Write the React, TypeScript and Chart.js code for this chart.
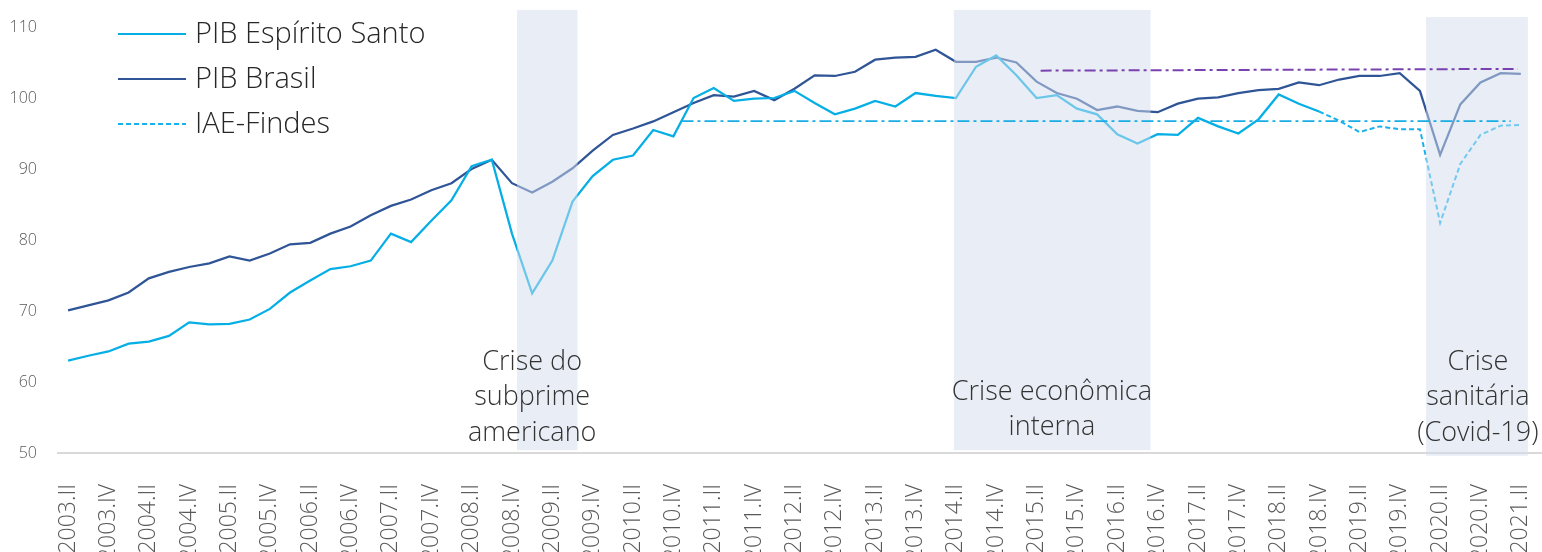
import React, { useEffect, useRef } from "react";
import { Chart, registerables } from "chart.js";

Chart.register(...registerables);

// Tick labels (every second quarter, index step 2)
const tickLabels = [
  "2003.II", "2003.IV", "2004.II", "2004.IV", "2005.II", "2005.IV", "2006.II", "2006.IV",
  "2007.II", "2007.IV", "2008.II", "2008.IV", "2009.II", "2009.IV", "2010.II", "2010.IV",
  "2011.II", "2011.IV", "2012.II", "2012.IV", "2013.II", "2013.IV", "2014.II", "2014.IV",
  "2015.II", "2015.IV", "2016.II", "2016.IV", "2017.II", "2017.IV", "2018.II", "2018.IV",
  "2019.II", "2019.IV", "2020.II", "2020.IV", "2021.II",
];

// PIB Espírito Santo, quarterly from 2003.II to 2018.IV
const pibES = [
  63.0, 63.7, 64.3, 65.4, 65.7, 66.5, 68.4, 68.1, 68.2, 68.8,
  70.3, 72.6, 74.3, 75.9, 76.3, 77.1, 80.9, 79.7, 82.7, 85.6,
  90.4, 91.3, 80.9, 72.5, 77.1, 85.4, 89.0, 91.3, 91.9, 95.5,
  94.6, 100.0, 101.4, 99.6, 99.9, 100.0, 101.0, 99.3, 97.7, 98.5,
  99.6, 98.8, 100.7, 100.3, 100.0, 104.4, 106.0, 103.2, 100.0, 100.4,
  98.5, 97.7, 94.9, 93.6, 94.9, 94.8, 97.2, 96.0, 95.0, 97.0,
  100.5, 99.2, 98.1,
];

// PIB Brasil, quarterly from 2003.II to 2021.II
const pibBR = [
  70.1, 70.8, 71.5, 72.6, 74.6, 75.5, 76.2, 76.7, 77.7, 77.1,
  78.1, 79.4, 79.6, 80.9, 81.9, 83.5, 84.8, 85.7, 87.0, 88.0,
  90.0, 91.3, 88.0, 86.7, 88.2, 90.1, 92.6, 94.8, 95.7, 96.7,
  98.0, 99.3, 100.4, 100.2, 101.0, 99.7, 101.3, 103.2, 103.1, 103.7,
  105.4, 105.7, 105.8, 106.8, 105.1, 105.1, 105.7, 105.0, 102.3, 100.7,
  99.9, 98.3, 98.8, 98.2, 98.0, 99.2, 99.9, 100.1, 100.7, 101.1,
  101.3, 102.2, 101.8, 102.6, 103.1, 103.1, 103.5, 101.0, 92.0, 99.1,
  102.2, 103.5, 103.4,
];

// IAE-Findes, from 2018.IV (index 62) to 2021.II
const iaeStart = 62;
const iaeFindes = [98.1, 96.8, 95.2, 96.0, 95.6, 95.6, 82.4, 90.7, 94.8, 96.1, 96.2];

// Reference (dash-dot) lines: [x index, value]
const esLevelLine = [
  [30.4, 96.75],
  [71.5, 96.75],
];
const brLevelLine = [
  [48.2, 103.85],
  [71.85, 104.1],
];

// Crisis periods (x index range, value range)
const crisisFrom = [22.25, 43.9, 67.3];
const crisisTo = [25.25, 53.65, 72.35];
const crisisTop = [112.4, 112.4, 111.4];
const crisisBottom = [50.4, 50.4, 49.6];
const crisisText = [
  ["Crise do", "subprime", "americano"],
  ["Crise econômica", "interna"],
  ["Crise", "sanitária", "(Covid-19)"],
];
const crisisTextX = [23.0, 48.76, 69.87];
const crisisTextY = [62.8, 58.6, 62.8];

const seriesNames = ["PIB Espírito Santo", "PIB Brasil", "IAE-Findes"];

const FONT = "'Open Sans', 'Segoe UI', sans-serif";
const C_ES = "#05AFE6";
const C_BR = "#2F5597";
const C_IAE = "#16B2EE";
const C_ESREF = "#19ADE6";
const C_BRREF = "#7A42B0";

const overlayPlugin = {
  id: "overlay",
  afterDatasetDraw(chart: any, args: any) {
    if (args.index !== 2) return;
    const { ctx, scales } = chart;
    const xs = scales.x;
    const ys = scales.y;
    ctx.save();
    ctx.fillStyle = "rgba(211,222,238,0.5)";
    for (let k = 0; k < crisisFrom.length; k++) {
      const x0 = xs.getPixelForValue(crisisFrom[k]);
      const x1 = xs.getPixelForValue(crisisTo[k]);
      const y0 = ys.getPixelForValue(crisisTop[k]);
      const y1 = ys.getPixelForValue(crisisBottom[k]);
      ctx.fillRect(x0, y0, x1 - x0, y1 - y0);
    }
    ctx.restore();
  },
  afterDraw(chart: any) {
    const { ctx, scales } = chart;
    const xs = scales.x;
    const ys = scales.y;
    ctx.save();
    // crisis labels
    ctx.fillStyle = "#333333";
    ctx.font = `300 27px ${FONT}`;
    ctx.textAlign = "center";
    ctx.textBaseline = "middle";
    for (let k = 0; k < crisisText.length; k++) {
      const cx = xs.getPixelForValue(crisisTextX[k]);
      const cy = ys.getPixelForValue(crisisTextY[k]);
      crisisText[k].forEach((line, j) => {
        ctx.fillText(line, cx, cy + j * 35.5);
      });
    }
    // legend
    const colors = [C_ES, C_BR, C_IAE];
    const dashes = [[], [], [5, 3]];
    seriesNames.forEach((name, k) => {
      const y = 34 + k * 45;
      ctx.beginPath();
      ctx.setLineDash(dashes[k]);
      ctx.strokeStyle = colors[k];
      ctx.lineWidth = 2;
      ctx.moveTo(118, y);
      ctx.lineTo(186, y);
      ctx.stroke();
      ctx.setLineDash([]);
      ctx.fillStyle = "#262626";
      ctx.font = `300 29px ${FONT}`;
      ctx.textAlign = "left";
      ctx.textBaseline = "middle";
      ctx.fillText(name, 195, y + 1);
    });
    ctx.restore();
  },
};

export default function App() {
  const ref = useRef<HTMLCanvasElement | null>(null);

  useEffect(() => {
    document.body.style.margin = "0";
    document.body.style.overflow = "hidden";
    const canvas = ref.current;
    if (!canvas) return;

    const chart = new Chart(canvas, {
      type: "line",
      data: {
        datasets: [
          {
            label: "ref ES",
            data: esLevelLine.map(([x, y]) => ({ x, y })),
            borderColor: C_ESREF,
            borderWidth: 1.6,
            borderDash: [12, 4, 3, 4],
            pointRadius: 0,
          },
          {
            label: "ref BR",
            data: brLevelLine.map(([x, y]) => ({ x, y })),
            borderColor: C_BRREF,
            borderWidth: 2,
            borderDash: [11, 4, 3, 4],
            pointRadius: 0,
          },
          {
            label: seriesNames[2],
            data: iaeFindes.map((v, k) => ({ x: iaeStart + k, y: v })),
            borderColor: C_IAE,
            borderWidth: 2,
            borderDash: [5, 3],
            pointRadius: 0,
          },
          {
            label: seriesNames[0],
            data: pibES.map((v, k) => ({ x: k, y: v })),
            borderColor: C_ES,
            borderWidth: 2.25,
            pointRadius: 0,
          },
          {
            label: seriesNames[1],
            data: pibBR.map((v, k) => ({ x: k, y: v })),
            borderColor: C_BR,
            borderWidth: 2.25,
            pointRadius: 0,
          },
        ],
      },
      options: {
        responsive: false,
        animation: false,
        devicePixelRatio: 1,
        layout: { padding: { top: 27, right: 1, left: 0, bottom: 0 } },
        elements: { line: { tension: 0 } },
        plugins: { legend: { display: false }, tooltip: { enabled: false } },
        scales: {
          x: {
            type: "linear",
            min: -0.5,
            max: 73,
            grid: { display: false, drawTicks: false, tickLength: 0 },
            border: { display: true, color: "#D9D9D9", width: 2 },
            ticks: {
              autoSkip: false,
              minRotation: 90,
              maxRotation: 90,
              padding: 31,
              color: "#595959",
              font: { family: FONT, size: 23, weight: "300" },
              callback: (_v: any, i: number) => tickLabels[i],
            },
            afterBuildTicks: (s: any) => {
              s.ticks = tickLabels.map((_, k) => ({ value: k * 2 }));
            },
            afterFit: (s: any) => {
              s.height = 99;
              s.paddingLeft = 0;
              s.paddingRight = 0;
              s.paddingTop = 0;
              s.paddingBottom = 0;
            },
          },
          y: {
            min: 50,
            max: 110,
            grid: { display: false, drawTicks: false, tickLength: 0 },
            border: { display: false },
            ticks: {
              stepSize: 10,
              padding: 21,
              color: "#595959",
              font: { family: FONT, size: 16, weight: "300" },
            },
            afterFit: (s: any) => {
              s.width = 58;
              s.paddingTop = 0;
              s.paddingBottom = 0;
              s.paddingLeft = 0;
              s.paddingRight = 0;
            },
          },
        },
      },
      plugins: [overlayPlugin],
    } as any);

    return () => chart.destroy();
  }, []);

  return (
    <div
      style={{
        position: "fixed",
        left: 0,
        top: 0,
        width: 1542,
        height: 552,
        overflow: "hidden",
        background: "#ffffff",
      }}
    >
      <canvas ref={ref} width={1542} height={552} />
    </div>
  );
}
